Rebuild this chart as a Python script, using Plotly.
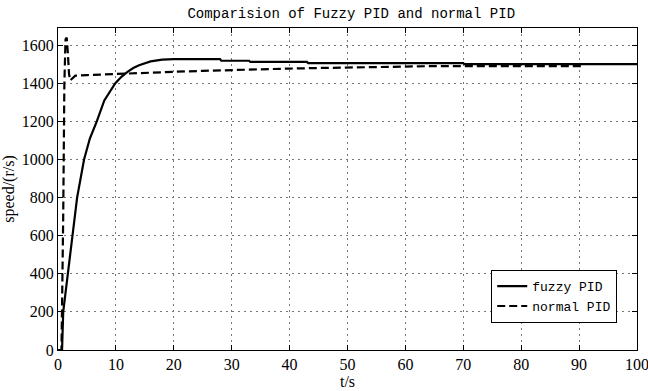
import plotly.graph_objects as go

fuzzy_t = [0, 0.7, 0.9, 1.3, 1.8, 2.2, 2.6, 3.3, 4.5, 5.5, 6.7, 8.0, 9.9, 11.0, 12.0, 13.0, 14.0, 15.0, 16.0, 18.0, 20.0, 28.0, 28.2, 33.0, 33.2, 43.0, 43.2, 70.0, 70.2, 100.0]
fuzzy_v = [0, 0, 200, 300, 400, 500, 600, 800, 1000, 1110, 1200, 1310, 1400, 1435, 1460, 1480, 1495, 1507, 1515, 1524, 1527, 1527, 1518, 1518, 1512, 1512, 1506, 1506, 1500, 1500]

normal_t = [0, 0.6, 0.9, 1.1, 1.3, 1.5, 1.7, 1.9, 2.1, 2.6, 3.0, 5.0, 8.0, 10.0, 15.0, 20.0, 25.0, 30.0, 35.0, 40.0, 45.0, 50.0, 55.0, 60.0, 65.0, 70.0, 80.0, 90.5]
normal_v = [0, 0, 700, 1400, 1630, 1640, 1560, 1450, 1415, 1430, 1440, 1443, 1447, 1450, 1455, 1460, 1465, 1470, 1473, 1477, 1480, 1483, 1485, 1487, 1490, 1490, 1490, 1490]

x_ticks = [0, 10, 20, 30, 40, 50, 60, 70, 80, 90, 100]
y_ticks = [0, 200, 400, 600, 800, 1000, 1200, 1400, 1600]

mono = "Liberation Mono"
serif = "Liberation Serif"

fig = go.Figure()
fig.add_trace(go.Scatter(x=fuzzy_t, y=fuzzy_v, mode="lines", name="fuzzy PID",
                         line=dict(color="black", width=2.2)))
fig.add_trace(go.Scatter(x=normal_t, y=normal_v, mode="lines", name="normal PID",
                         line=dict(color="black", width=2.2, dash="8px,4px")))

axis_common = dict(showline=True, linecolor="black", linewidth=1.2, mirror="ticks",
                   ticks="inside", ticklen=5, tickcolor="black", automargin=False,
                   ticklabeloverflow="allow",
                   showgrid=True, gridcolor="#777777", griddash="2px,4px", gridwidth=1,
                   zeroline=False,
                   tickfont=dict(family=serif, size=16, color="black"))

fig.update_layout(
    width=648, height=391,
    margin=dict(l=58, r=11, t=28, b=41),
    paper_bgcolor="white", plot_bgcolor="white",
    font=dict(family=serif, size=16, color="black"),
    title=dict(text="Comparision of Fuzzy PID and normal PID", x=0.542, xanchor="center",
               xref="container",
               y=0.967, yanchor="middle", font=dict(family=mono, size=14, color="black")),
    xaxis=dict(range=[0, 100], tickvals=x_ticks, ticktext=[str(v) for v in x_ticks],
               title=dict(text="t/s", font=dict(family=serif, size=16, color="black"), standoff=0),
               **axis_common),
    yaxis=dict(range=[0, 1690], tickvals=y_ticks, ticktext=[str(v) for v in y_ticks],
               title=dict(text="speed/(r/s)", font=dict(family=serif, size=16, color="black"), standoff=3),
               **axis_common),
    legend=dict(x=0.9655, y=0.084, xanchor="right", yanchor="bottom",
                bgcolor="white", bordercolor="black", borderwidth=1.2,
                font=dict(family=mono, size=13, color="black"),
                tracegroupgap=0, itemwidth=30),
    showlegend=True,
)

fig.write_html("out.html", config={"displayModeBar": False},
               post_script="document.body.style.margin='0';")
